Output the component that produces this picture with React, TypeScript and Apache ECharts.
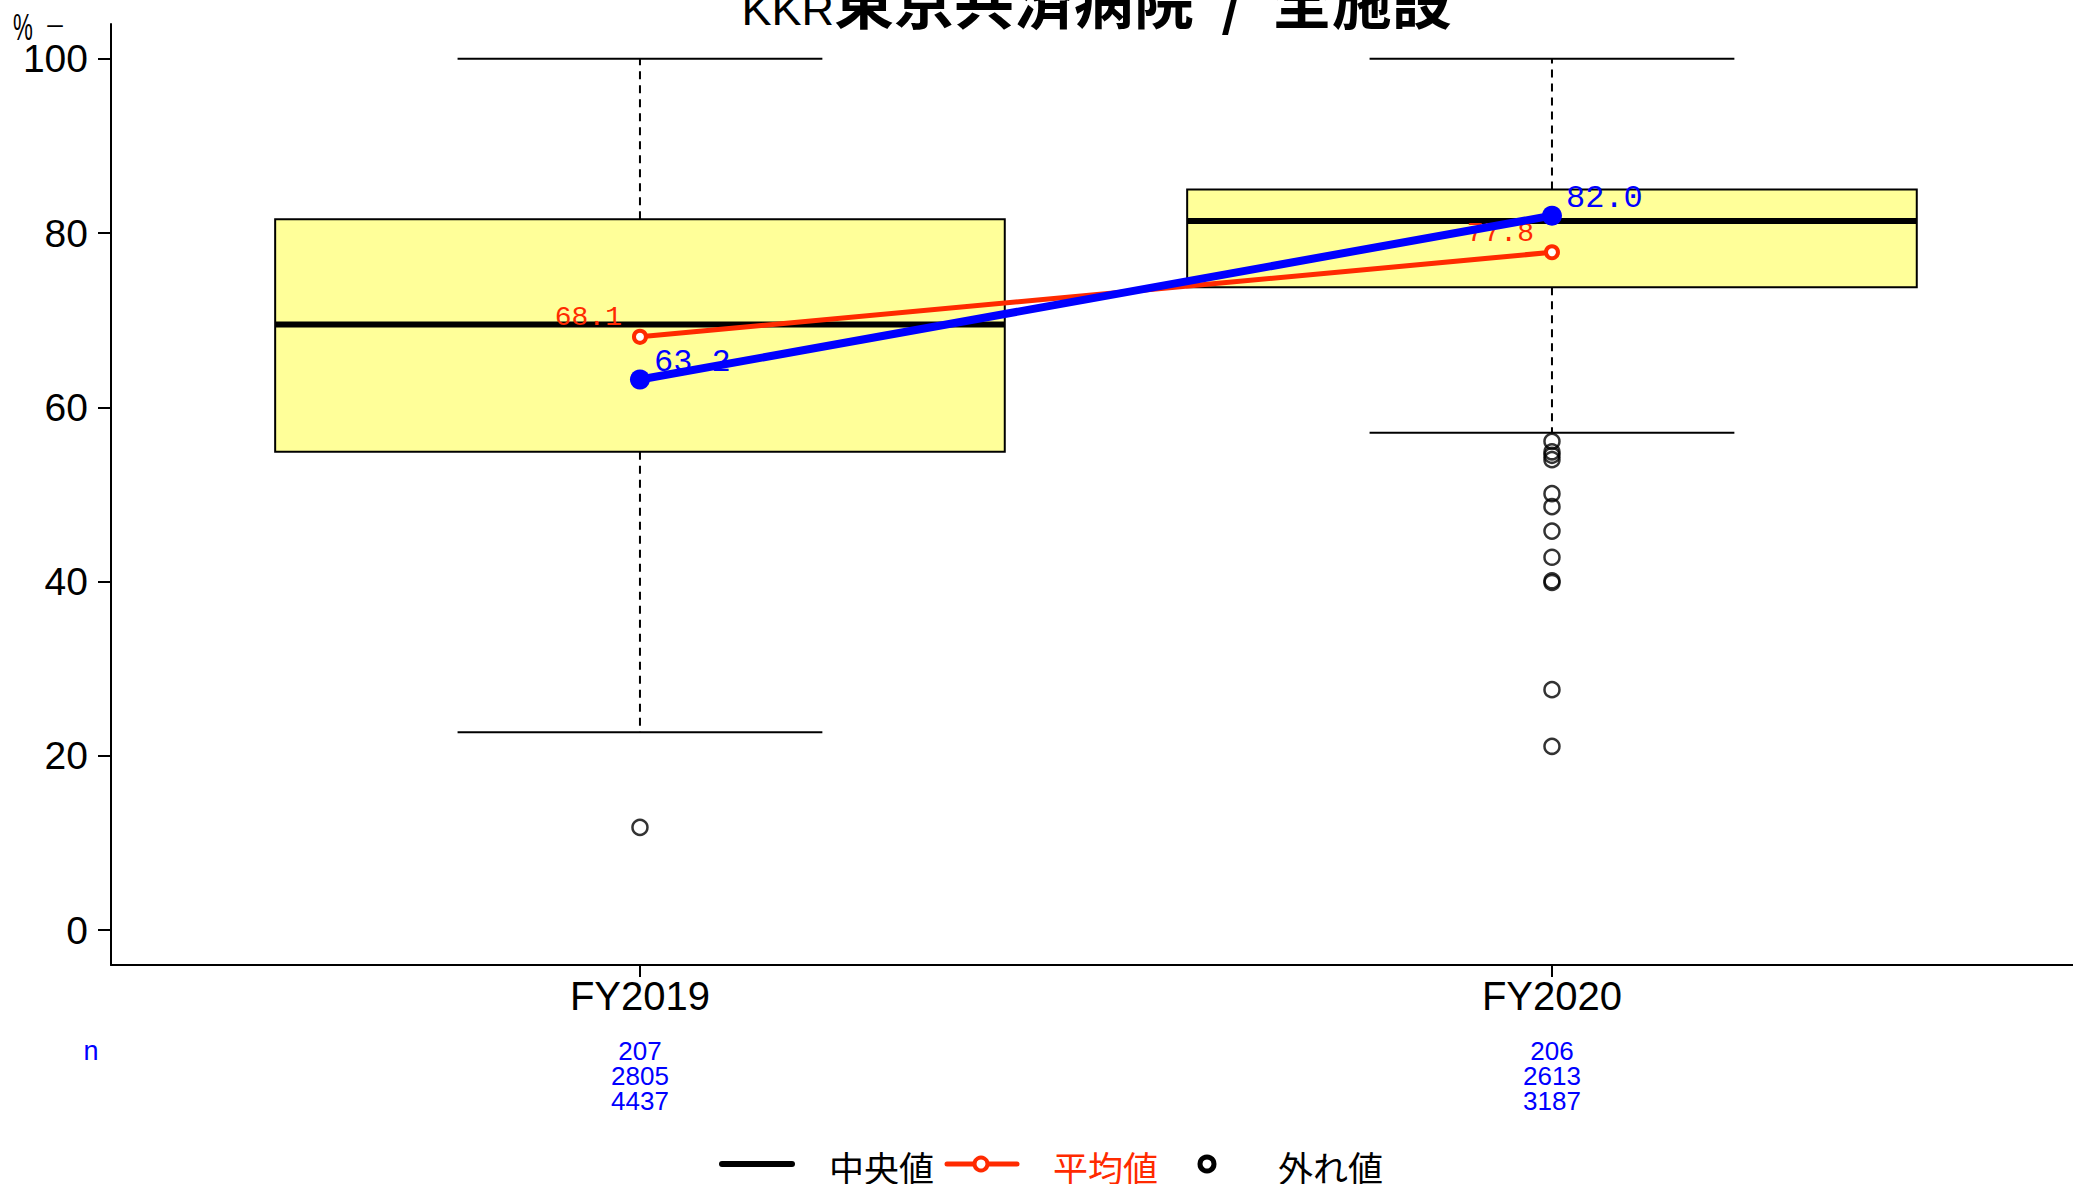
import React, { useEffect, useRef } from "react";
import * as echarts from "echarts";

const categories = ["FY2019", "FY2020"];
const lowerWhisker = [22.7, 57.1];
const q1Values = [54.9, 73.8];
const medianValues = [69.5, 81.4];
const q3Values = [81.6, 85.0];
const upperWhisker = [100, 100];
const meanValues = [68.1, 77.8];
const hospitalValues = [63.2, 82.0];
const outliers2019 = [11.8];
const outliers2020 = [56.1, 54.9, 54.5, 54.0, 50.1, 48.6, 45.8, 42.8, 40.1, 39.9, 27.6, 21.1];
const nHospitals = [207, 206];
const nSecond = [2805, 2613];
const nThird = [4437, 3187];
const yTicks = [0, 20, 40, 60, 80, 100];

const titleMain = "東京共済病院  /  全施設";
const titlePrefix = "KKR";
const legendLabels = ["中央値", "平均値", "外れ値"];

const RED = "#FF2A00";
const BLUE = "#0000FF";
const BOX_FILL = "#FFFF99";
const SANS = "'Liberation Sans', Arial, sans-serif";
const MONO = "'Liberation Mono', 'DejaVu Sans Mono', monospace";
const CJK = "'Noto Sans CJK JP', 'Noto Sans', sans-serif";

export default function App() {
  const ref = useRef<HTMLDivElement | null>(null);

  useEffect(() => {
    if (!ref.current) return;
    const chart = echarts.init(ref.current, undefined, { renderer: "svg" });
    const xPos = categories.map((_, i) => i + 1);
    const xMin = 0.42;
    const xMax = 2.5713;

    const boxData = categories.map((_, i) => [
      i + 1,
      lowerWhisker[i],
      q1Values[i],
      medianValues[i],
      q3Values[i],
      upperWhisker[i],
    ]);
    const outlierData = [
      ...outliers2019.map((v) => [1, v]),
      ...outliers2020.map((v) => [2, v]),
    ];

    const axisLineStyle = { color: "#000", width: 2 };

    const option: any = {
      animation: false,
      backgroundColor: "#ffffff",
      grid: { left: 111, right: 0, top: 24, bottom: 219, containLabel: false },
      xAxis: [
        {
          type: "value",
          min: xMin,
          max: xMax,
          position: "bottom",
          axisLine: { show: true, onZero: false, lineStyle: axisLineStyle },
          axisTick: {
            show: true,
            customValues: xPos,
            length: 12,
            lineStyle: axisLineStyle,
          },
          axisLabel: {
            customValues: xPos,
            formatter: (v: number) => categories[Math.round(v) - 1] ?? "",
            fontSize: 40,
            lineHeight: 40,
            fontFamily: SANS,
            color: "#000",
            margin: 11,
          },
          splitLine: { show: false },
        },
        {
          type: "value",
          min: xMin,
          max: xMax,
          position: "bottom",
          axisLine: { show: false, onZero: false },
          axisTick: { show: false },
          axisLabel: {
            customValues: xPos,
            formatter: (v: number) => {
              const i = Math.round(v) - 1;
              if (i < 0 || i >= categories.length) return "";
              return [nHospitals[i], nSecond[i], nThird[i]].join("\n");
            },
            fontSize: 26,
            lineHeight: 25,
            fontFamily: SANS,
            color: BLUE,
            margin: 73,
          },
          splitLine: { show: false },
        },
      ],
      yAxis: {
        type: "value",
        min: -4,
        max: 104,
        axisLine: { show: true, onZero: false, lineStyle: axisLineStyle },
        axisTick: {
          show: true,
          customValues: yTicks,
          length: 13,
          lineStyle: axisLineStyle,
        },
        axisLabel: {
          customValues: yTicks,
          fontSize: 39,
          fontFamily: SANS,
          color: "#000",
          margin: 23,
          padding: [12, 0, 0, 0],
        },
        splitLine: { show: false },
      },
      series: [
        {
          type: "custom",
          name: "box",
          z: 1,
          xAxisIndex: 0,
          data: boxData,
          encode: { x: 0, y: [1, 2, 3, 4, 5] },
          renderItem: (params: any, api: any) => {
            const x = api.value(0);
            const lw = api.coord([x, api.value(1)]);
            const q1 = api.coord([x, api.value(2)]);
            const md = api.coord([x, api.value(3)]);
            const q3 = api.coord([x, api.value(4)]);
            const uw = api.coord([x, api.value(5)]);
            const boxW = api.size([0.8, 0])[0];
            const capW = api.size([0.4, 0])[0];
            const cx = lw[0];
            const dashed = { stroke: "#000", lineWidth: 2, lineDash: [8, 6] };
            const solid = { stroke: "#000", lineWidth: 2 };
            return {
              type: "group",
              children: [
                { type: "line", shape: { x1: cx, y1: q3[1], x2: cx, y2: uw[1] }, style: dashed },
                { type: "line", shape: { x1: cx, y1: q1[1], x2: cx, y2: lw[1] }, style: dashed },
                { type: "line", shape: { x1: cx - capW / 2, y1: uw[1], x2: cx + capW / 2, y2: uw[1] }, style: solid },
                { type: "line", shape: { x1: cx - capW / 2, y1: lw[1], x2: cx + capW / 2, y2: lw[1] }, style: solid },
                {
                  type: "rect",
                  shape: { x: cx - boxW / 2, y: q3[1], width: boxW, height: q1[1] - q3[1] },
                  style: { fill: BOX_FILL, stroke: "#000", lineWidth: 2 },
                },
                {
                  type: "line",
                  shape: { x1: cx - boxW / 2, y1: md[1], x2: cx + boxW / 2, y2: md[1] },
                  style: { stroke: "#000", lineWidth: 6 },
                },
              ],
            };
          },
        },
        {
          type: "scatter",
          name: "外れ値",
          z: 2,
          data: outlierData,
          symbol: "circle",
          symbolSize: 15,
          itemStyle: { color: "rgba(0,0,0,0)", borderColor: "#000", borderWidth: 2.5 },
        },
        {
          type: "line",
          name: "平均値",
          z: 3,
          data: meanValues.map((v, i) => [i + 1, v]),
          lineStyle: { color: RED, width: 5 },
          symbol: "circle",
          symbolSize: 12,
          itemStyle: { color: "#fff", borderColor: RED, borderWidth: 4 },
          label: {
            show: true,
            position: "left",
            distance: 10,
            offset: [0, -19],
            formatter: (p: any) => Number(p.value[1]).toFixed(1),
            color: RED,
            fontSize: 28,
            fontFamily: MONO,
          },
        },
        {
          type: "line",
          name: "病院",
          z: 4,
          data: hospitalValues.map((v, i) => [i + 1, v]),
          lineStyle: { color: BLUE, width: 8 },
          symbol: "circle",
          symbolSize: 20,
          itemStyle: { color: BLUE },
          label: {
            show: true,
            position: "right",
            distance: 4,
            offset: [0, -17],
            formatter: (p: any) => Number(p.value[1]).toFixed(1),
            color: BLUE,
            fontSize: 32,
            fontFamily: MONO,
          },
        },
      ],
      graphic: [
        {
          type: "text",
          x: 834,
          y: 9,
          style: {
            text: titlePrefix,
            fontSize: 45,
            fontFamily: SANS,
            fill: "#000",
            textAlign: "right",
            textVerticalAlign: "middle",
          },
        },
        {
          type: "text",
          x: 834,
          y: -3,
          style: {
            text: titleMain,
            fontSize: 60,
            fontWeight: "bold",
            fontFamily: CJK,
            fill: "#000",
            textAlign: "left",
            textVerticalAlign: "middle",
          },
        },
        {
          type: "text",
          x: 23,
          y: 27,
          scaleX: 0.62,
          style: { text: "%", fontSize: 36, fontFamily: SANS, fill: "#000", textAlign: "center", textVerticalAlign: "middle" },
        },
        {
          type: "text",
          x: 55,
          y: 23,
          style: { text: "–", fontSize: 28, fontFamily: SANS, fill: "#000", textAlign: "center", textVerticalAlign: "middle" },
        },
        {
          type: "text",
          x: 91,
          y: 1051,
          style: { text: "n", fontSize: 27, fontFamily: SANS, fill: BLUE, textAlign: "center", textVerticalAlign: "middle" },
        },
        // legend
        { type: "line", shape: { x1: 722, y1: 1164, x2: 792, y2: 1164 }, style: { stroke: "#000", lineWidth: 6, lineCap: "round" } },
        {
          type: "text",
          x: 829,
          y: 1166,
          style: { text: legendLabels[0], fontSize: 35, fontFamily: CJK, fill: "#000", textAlign: "left", textVerticalAlign: "middle" },
        },
        { type: "line", shape: { x1: 947, y1: 1164, x2: 1017, y2: 1164 }, style: { stroke: RED, lineWidth: 5, lineCap: "round" } },
        { type: "circle", shape: { cx: 981, cy: 1164, r: 6.5 }, style: { fill: "#fff", stroke: RED, lineWidth: 4 } },
        {
          type: "text",
          x: 1053,
          y: 1166,
          style: { text: legendLabels[1], fontSize: 35, fontFamily: CJK, fill: RED, textAlign: "left", textVerticalAlign: "middle" },
        },
        { type: "circle", shape: { cx: 1207, cy: 1164, r: 7 }, style: { fill: "#fff", stroke: "#000", lineWidth: 5 } },
        {
          type: "text",
          x: 1278,
          y: 1166,
          style: { text: legendLabels[2], fontSize: 35, fontFamily: CJK, fill: "#000", textAlign: "left", textVerticalAlign: "middle" },
        },
      ],
    };

    chart.setOption(option);
    return () => {
      chart.dispose();
    };
  }, []);

  return (
    <div
      ref={ref}
      style={{ position: "absolute", left: 0, top: 0, width: 2073, height: 1184, background: "#fff" }}
    />
  );
}
